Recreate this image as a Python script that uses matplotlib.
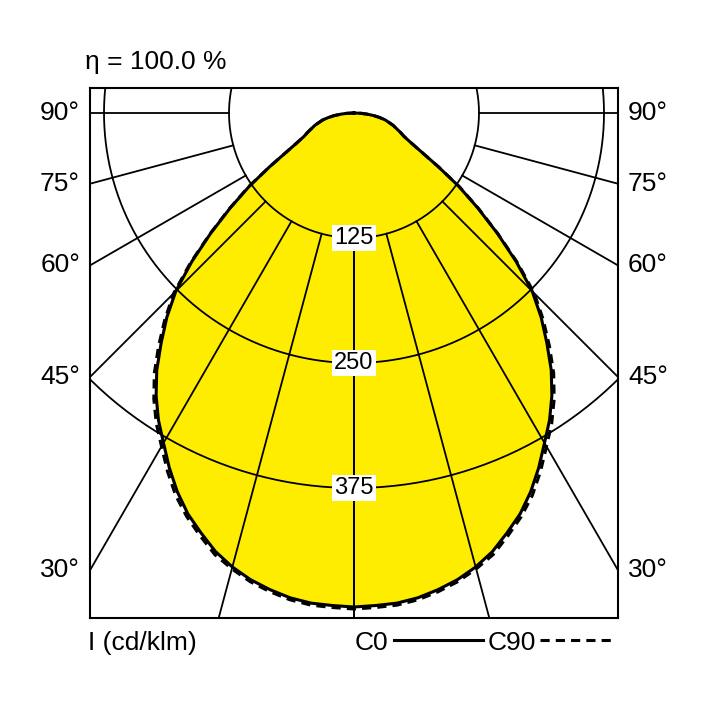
import numpy as np
import matplotlib.pyplot as plt

plt.rcParams['font.family'] = ['Liberation Sans Narrow', 'Liberation Sans', 'DejaVu Sans']

# luminous intensity, cd/klm, by angle from nadir
angles = [0, 2.5, 5, 7.5, 10, 12.5, 15, 17.5, 20, 22.5, 25, 27.5, 30, 32.5, 35, 37.5, 40, 42.5,
          45, 47.5, 50, 52.5, 55, 57.5, 60, 62.5, 65, 67.5, 70, 72.5, 75, 77.5, 80, 82.5, 85, 87.5, 90]
c0 = [494, 493, 492, 489, 484, 478, 470, 460, 447, 434, 418, 400, 381, 364, 345, 324, 300, 277,
      252, 220, 187, 156, 128, 100, 78, 64, 55, 50, 45, 41, 36, 32, 26, 20, 13, 7, 0]
c90 = [496, 495, 494, 491, 486, 480, 472, 463, 450, 437, 422, 404, 385, 368, 349, 328, 304, 280,
       255, 222, 188, 157, 129, 100, 78, 64, 55, 50, 45, 41, 36, 32, 26, 20, 13, 7, 0]
rings = [125, 250, 375]
spokes = [0, 15, 30, 45, 60, 75, 90]
angle_labels = [90, 75, 60, 45, 30]

fig = plt.figure(figsize=(7.08, 7.08), dpi=100)
ax = fig.add_axes([90 / 708, 90 / 708, 528 / 708, 530 / 708])
ax.set_xlim(-264, 264)
ax.set_ylim(-505, 25)
ax.set_xticks([])
ax.set_yticks([])
for s in ax.spines.values():
    s.set_linewidth(1.5)


def curve(vals):
    a = np.radians(np.array(angles, float))
    r = np.array(vals, float)
    x = np.concatenate([-(r * np.sin(a))[::-1], (r * np.sin(a))[1:]])
    y = np.concatenate([-(r * np.cos(a))[::-1], -(r * np.cos(a))[1:]])
    return x, y


x0, y0 = curve(c0)
x9, y9 = curve(c90)
ax.fill(x0, y0, color="#ffed00", zorder=1)

t = np.linspace(0, 2 * np.pi, 400)
for r in rings:
    ax.plot(r * np.cos(t), r * np.sin(t), color="black", lw=1.3, zorder=2)
for s in spokes:
    a = np.radians(s)
    for sign in (-1, 1):
        ax.plot([sign * 125 * np.sin(a), sign * 900 * np.sin(a)],
                [-125 * np.cos(a), -900 * np.cos(a)], color="black", lw=1.3, zorder=2)

ax.plot(x9, y9, color="black", lw=2.2, ls=(0, (3, 2)), zorder=3)
ax.plot(x0, y0, color="black", lw=2.2, zorder=4)

for r in rings:
    ax.text(0, -r, str(r), ha="center", va="center", fontsize=17, zorder=5,
            bbox=dict(facecolor="white", edgecolor="none", pad=1.5))

for s in angle_labels:
    a = np.radians(s)
    y = -264 / np.tan(a) if s < 90 else 0
    if y < -460:
        y = -467
    ax.text(-274, y, f"{s}°", ha="right", va="center", fontsize=19, clip_on=False)
    ax.text(274, y, f"{s}°", ha="left", va="center", fontsize=19, clip_on=False)

fig.text(85 / 708, 1 - 62 / 708, "η = 100.0 %", fontsize=19, va="center")
fig.text(88 / 708, 1 - 643 / 708, "I (cd/klm)", fontsize=19, va="center")
fig.text(355 / 708, 1 - 643 / 708, "C0", fontsize=19, va="center")
fig.text(488 / 708, 1 - 643 / 708, "C90", fontsize=19, va="center")
fig.add_artist(plt.Line2D([394 / 708, 483 / 708], [1 - 640 / 708] * 2, color="black", lw=2.2))
fig.add_artist(plt.Line2D([540 / 708, 616 / 708], [1 - 640 / 708] * 2, color="black", lw=2.2,
                          ls=(0, (3, 2))))

fig.savefig("out.png")
